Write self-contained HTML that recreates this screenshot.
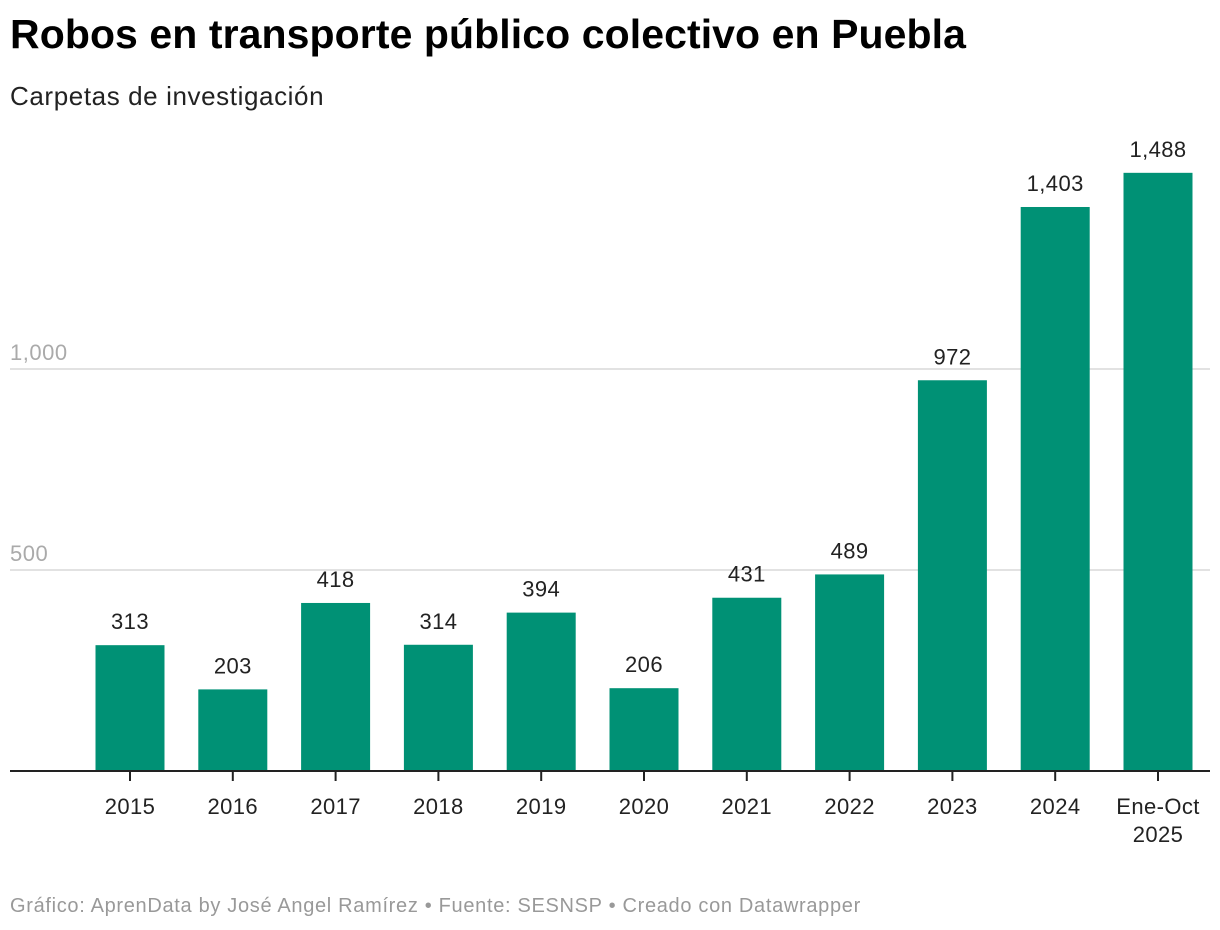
<!DOCTYPE html>
<html><head><meta charset="utf-8"><style>
body{margin:0;width:1220px;height:930px;background:#fff;font-family:"Liberation Sans",sans-serif;overflow:hidden;position:relative}
#title{position:absolute;left:10px;top:11px;font-size:41px;font-weight:bold;color:#000;letter-spacing:0.08px;white-space:nowrap}
#sub{position:absolute;left:10px;top:81px;font-size:26px;color:#222;letter-spacing:0.6px;white-space:nowrap}
#foot{position:absolute;left:10px;top:895px;font-size:20px;color:#999;letter-spacing:0.68px;white-space:nowrap}
svg{position:absolute;left:0;top:0}
</style></head><body>
<div id="title">Robos en transporte público colectivo en Puebla</div>
<div id="sub">Carpetas de investigación</div>
<svg id="chart" width="1220" height="930"></svg>
<div id="foot">Gráfico: AprenData by José Angel Ramírez • Fuente: SESNSP • Creado con Datawrapper</div>
<script>
const categories=["2015","2016","2017","2018","2019","2020","2021","2022","2023","2024","Ene-Oct|2025"];
const values=[313,203,418,314,394,206,431,489,972,1403,1488];
const valueLabels=["313","203","418","314","394","206","431","489","972","1,403","1,488"];
const gridTicks=[500,1000];
const gridLabels=["500","1,000"];
const svg=document.getElementById('chart');const NS='http://www.w3.org/2000/svg';
const y0=771,scale=0.402,x0=78.6,step=102.8,bw=69;
const y=v=>y0-v*scale;const xc=i=>x0+step*(i+0.5);
function mk(t,a){const e=document.createElementNS(NS,t);for(const k in a)e.setAttribute(k,a[k]);svg.appendChild(e);return e;}
gridTicks.forEach((t,i)=>{
const l=mk('line',{x1:10,x2:1210,y1:y(t),y2:y(t),stroke:'#e2e2e2','stroke-width':2});


const tx=mk('text',{x:10,y:y(t)-9,'font-size':22,fill:'#aaa','letter-spacing':0.5});tx.textContent=gridLabels[i];


});
values.forEach((v,i)=>{
const r=mk('rect',{x:xc(i)-bw/2,y:y(v),width:bw,height:v*scale,fill:'#009175'});


const t=mk('text',{x:xc(i),y:y(v)-16,'font-size':22,fill:'#222','text-anchor':'middle','letter-spacing':0.4});t.textContent=valueLabels[i];


const tk=mk('line',{x1:xc(i),x2:xc(i),y1:y0,y2:y0+10,stroke:'#222','stroke-width':2});


categories[i].split('|').forEach((s,j)=>{
const c=mk('text',{x:xc(i),y:814+j*28,'font-size':22,fill:'#222','text-anchor':'middle','letter-spacing':0.4});c.textContent=s;


});
});
const ax=mk('line',{x1:10,x2:1210,y1:y0,y2:y0,stroke:'#222','stroke-width':2});


</script>
</body></html>
